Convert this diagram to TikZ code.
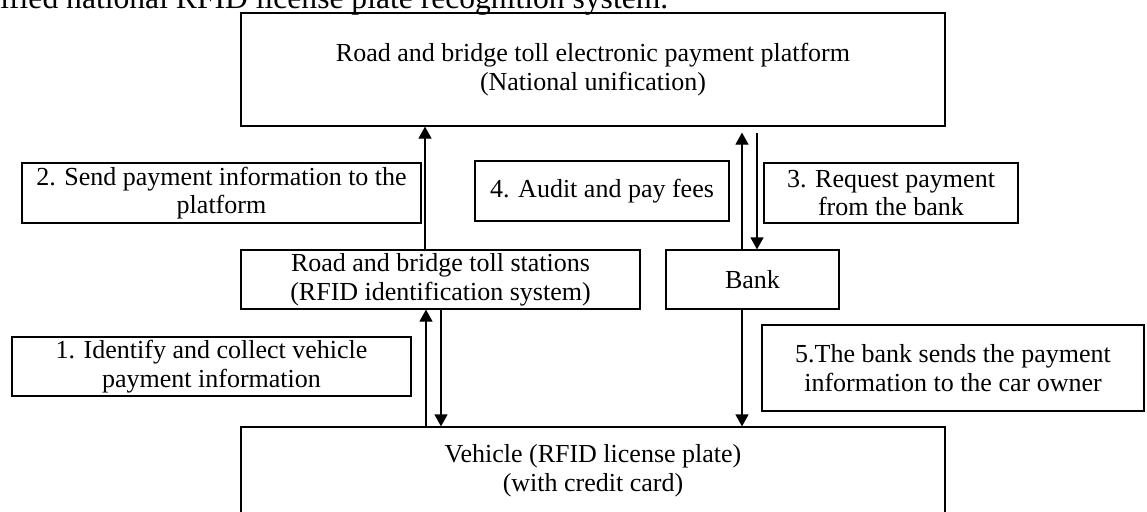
\documentclass[tikz,border=0pt]{standalone}
\usepackage{fontspec}
\setmainfont{Liberation Serif}
\usetikzlibrary{arrows.meta,calc}
\begin{document}
\begin{tikzpicture}[x=0.5pt,y=-0.5pt,
  box/.style={draw,line width=0.6pt,inner sep=0pt,align=center,
    font=\fontsize{13}{14.3}\selectfont},
  arr/.style={line width=0.6pt,-{Triangle[length=6pt,width=6.5pt]}}]
\useasboundingbox (0,0) rectangle (1147,511);
\node[anchor=base west,inner sep=0pt,font=\fontsize{15.8}{18}\selectfont] (cap) at (0,8)
  {ified national RFID license plate recognition system.};
\node[box,minimum width=352pt,minimum height=56.5pt] (plat) at (593,69.5)
  {Road and bridge toll electronic payment platform\\(National unification)};
\node[box,minimum width=199.5pt,minimum height=30pt] (b2) at (221.5,193)
  {2. Send payment information to the\\platform};
\node[box,minimum width=127pt,minimum height=30pt] (b4) at (602,191)
  {4. Audit and pay fees};
\node[box,minimum width=127pt,minimum height=30pt] (b3) at (891,193)
  {3. Request payment\\from the bank};
\node[box,minimum width=199.5pt,minimum height=29.5pt] (toll) at (440.5,279.5)
  {Road and bridge toll stations\\(RFID identification system)};
\node[box,minimum width=86.5pt,minimum height=29.5pt] (bank) at (752.5,279.5)
  {Bank};
\node[box,minimum width=199.5pt,minimum height=29.5pt] (b1) at (211.5,366.5)
  {1. Identify and collect vehicle\\payment information};
\node[box,minimum width=191pt,minimum height=43pt] (b5) at (953,368)
  {5.The bank sends the payment\\information to the car owner};
\node[box,minimum width=352pt,minimum height=44pt] (veh) at (593,471)
  {Vehicle (RFID license plate)\\(with credit card)};
\coordinate (c1) at (426,0);
\coordinate (c2) at (441,0);
\coordinate (c3) at (425,0);
\coordinate (c4) at (742,0);
\coordinate (c5) at (757,0);
\draw[arr] (veh.north -| c1) -- (toll.south -| c1);
\draw[arr] (toll.south -| c2) -- (veh.north -| c2);
\draw[arr] (toll.north -| c3) -- (plat.south -| c3);
\draw[arr] (bank.north -| c4) -- ($(plat.south -| c4)+(0,6)$);
\draw[arr] ($(plat.south -| c5)+(0,6)$) -- (bank.north -| c5);
\draw[arr] (bank.south -| c4) -- (veh.north -| c4);
\end{tikzpicture}
\end{document}
